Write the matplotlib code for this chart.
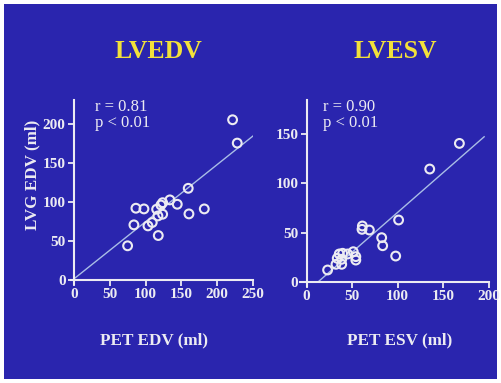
import matplotlib
matplotlib.use("Agg")
import matplotlib.pyplot as plt
import numpy as np

# Data
edv_pet = [221.5, 228, 159.6, 86.6, 97.8, 115.5, 123.9, 121.5, 134, 144.3,
           117.3, 123.9, 160.6, 83.8, 103.4, 109.4, 117.8, 75, 182]
edv_lvg = [205.6, 175.6, 117.5, 91.9, 91, 90.6, 99, 96, 102.6, 97,
           82, 84.2, 84.6, 70.5, 69.2, 73.5, 56.8, 43.6, 91]
esv_pet = [167.8, 135.2, 101, 61.2, 60.8, 68.9, 82.4, 83.5, 97.8, 54, 54,
           51.2, 45, 39.5, 35.8, 33.6, 38.5, 32.2, 38.5, 23]
esv_lvg = [140.8, 114.7, 62.8, 56.7, 53.3, 52.6, 44.8, 36.6, 26.1, 22, 25.5,
           30.5, 28.2, 28.9, 28.2, 23.8, 22.8, 17.7, 17.7, 11.9]
edv_fit = (0.735, 1.0, 2, 250)     # slope, intercept, x start, x end
esv_fit = (0.81, -10.4, 12.8, 195)
edv_ticks = [0, 50, 100, 150, 200, 250]
edv_yticks = [0, 50, 100, 150, 200]
esv_ticks = [0, 50, 100, 150, 200]
esv_yticks = [0, 50, 100, 150]

BG = "#2a25ae"
FG = "#ecebf2"
serif = ["Liberation Serif", "DejaVu Serif"]

fig = plt.figure(figsize=(5.02, 3.83), dpi=100)
fig.patch.set_facecolor("white")
bgax = fig.add_axes([4/502, 1-379/383, 493/502, 375/383])
bgax.set_facecolor(BG)
bgax.set_xticks([]); bgax.set_yticks([])
for s in bgax.spines.values():
    s.set_visible(False)

def panel(rect, xs, ys, fit, xlim, ylim, xt, yt, title, title_x, xlabel, xlabel_x, rtxt, tx):
    ax = fig.add_axes(rect)
    ax.patch.set_alpha(0)
    ax.set_xlim(*xlim); ax.set_ylim(*ylim)
    for k in ("top", "right"):
        ax.spines[k].set_visible(False)
    ax.spines["left"].set_position(("data", 0))
    ax.spines["bottom"].set_position(("data", 0))
    for k in ("left", "bottom"):
        ax.spines[k].set_color(FG)
        ax.spines[k].set_linewidth(1.5)
    ax.set_xticks(xt); ax.set_yticks(yt)
    ax.tick_params(colors=FG, width=1.3, length=4, direction="out", pad=2)
    for lab in ax.get_xticklabels() + ax.get_yticklabels():
        lab.set_family(serif); lab.set_weight("bold"); lab.set_size(11); lab.set_color(FG)
    m, b, x0, x1 = fit
    lx = np.array([x0, x1])
    ax.plot(lx, m*lx + b, color="#a9bde6", lw=1.0, zorder=2)
    ax.scatter(xs, ys, s=40, facecolors="none", edgecolors=FG, linewidths=1.5, zorder=3)
    fig.text(title_x, 1-52/383, title, ha="center", va="center", color="#f2e13a",
             family=serif, weight="bold", size=18.5)
    fig.text(xlabel_x, 1-340/383, xlabel, ha="center", va="center", color=FG,
             family=serif, weight="bold", size=12.3)
    fig.text(tx, 1-107/383, rtxt[0], ha="left", va="center", color=FG, family=serif, size=12)
    fig.text(tx, 1-123/383, rtxt[1], ha="left", va="center", color=FG, family=serif, size=12)
    return ax

ax1 = panel([71/502, 1-284/383, 182/502, 184/383], edv_pet, edv_lvg, edv_fit,
            (-4, 250), (-5.5, 231), edv_ticks, edv_yticks, "LVEDV", 158/502,
            "PET EDV (ml)", 154/502, ("r = 0.81", "p < 0.01"), 95/502)
ax2 = panel([300.3/502, 1-285.6/383, 188.4/502, 185.6/383], esv_pet, esv_lvg, esv_fit,
            (-7, 200), (-4, 185), esv_ticks, esv_yticks, "LVESV", 395/502,
            "PET ESV (ml)", 400/502, ("r = 0.90", "p < 0.01"), 323/502)

fig.text(32/502, 1-175/383, "LVG EDV (ml)", rotation=90, ha="center", va="center",
         color=FG, family=serif, weight="bold", size=12.3)

fig.savefig("out.png", dpi=100, facecolor=fig.get_facecolor())
